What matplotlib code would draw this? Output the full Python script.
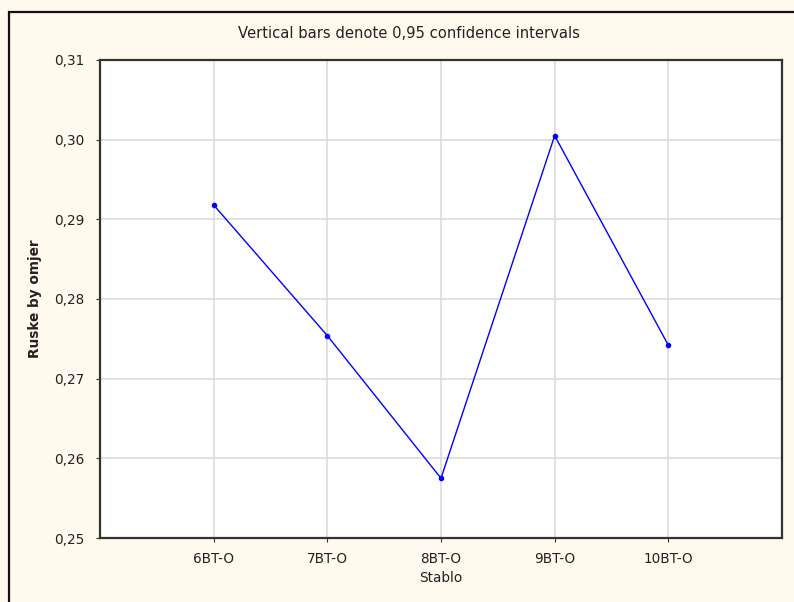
import matplotlib
matplotlib.use("Agg")
import matplotlib.pyplot as plt
from matplotlib.patches import Rectangle

# data
categories = ["6BT-O", "7BT-O", "8BT-O", "9BT-O", "10BT-O"]
values = [0.2918, 0.2754, 0.2575, 0.3005, 0.2742]
yticks = [0.25, 0.26, 0.27, 0.28, 0.29, 0.30, 0.31]

plt.rcParams['font.family'] = ['DejaVu Sans']

bg = "#fff9ee"
fs = 9.8
fig = plt.figure(figsize=(7.94, 6.02), dpi=100, facecolor=bg)
ax = fig.add_axes([100/794, 1 - 538/602, 682/794, 478/602])

# outer frame
fig.patches.append(Rectangle((9/794, -0.1), 1.2, 1 - 12/602 + 0.1,
                             transform=fig.transFigure, fill=False,
                             edgecolor="#111111", linewidth=1.6))

x = range(1, len(categories) + 1)
ax.plot(x, values, color="#0000ff", linewidth=1.0, marker="o",
        markersize=3, markerfacecolor="#0000ff", markeredgecolor="#0000ff",
        zorder=3)

ax.set_xlim(0, 6)
ax.set_ylim(0.25, 0.31)
ax.set_xticks(list(x))
ax.set_xticklabels(categories)
ax.set_yticks(yticks)
ax.set_yticklabels([("%.2f" % t).replace(".", ",") for t in yticks])
ax.grid(True, color="#dcdcdc", linewidth=1.2)
ax.set_axisbelow(True)
for s in ax.spines.values():
    s.set_linewidth(1.6)
    s.set_color("#333333")
ax.tick_params(axis="both", labelsize=fs, length=3, color="#333333",
               labelcolor="#222222")
ax.tick_params(axis="x", pad=7)
ax.tick_params(axis="y", pad=8)

ax.set_xlabel("Stablo", fontsize=fs, labelpad=4, color="#222222")
ax.set_ylabel("Ruske by omjer", fontsize=fs, labelpad=9, color="#222222",
              fontweight="bold")
fig.text(0.515, 1 - 34/602, "Vertical bars denote 0,95 confidence intervals",
         ha="center", va="center", fontsize=10.6, color="#222222")

fig.savefig("out.png", dpi=100, facecolor=bg)
